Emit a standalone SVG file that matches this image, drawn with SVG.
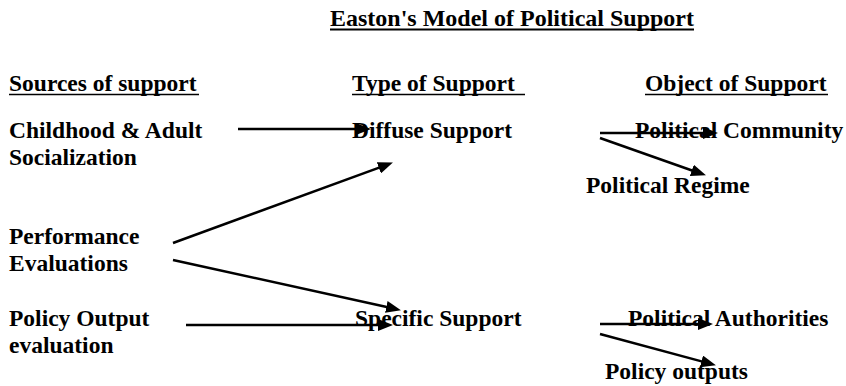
<svg xmlns="http://www.w3.org/2000/svg" width="846" height="386" viewBox="0 0 846 386">
<style>
text{font-family:"Liberation Serif","Times New Roman",serif;font-weight:bold;font-size:23.5px;fill:#000}
.ul{stroke:#000;stroke-width:1.6}
.conn line{stroke:#000;stroke-width:2.5;marker-end:url(#ah)}
</style>
<defs>
<marker id="ah" viewBox="0 0 15 12" markerWidth="15" markerHeight="12" markerUnits="userSpaceOnUse" refX="4" refY="6" orient="auto">
<path d="M0,0 L15,6 L0,12 z" fill="#000"/>
</marker>
</defs>
<rect width="846" height="386" fill="#fff"/>
<g id="title">
<text x="330" y="26" textLength="364" lengthAdjust="spacingAndGlyphs">Easton's Model of Political Support</text>
<line class="ul" x1="330" y1="29.5" x2="694" y2="29.5" style="stroke-width:2"/>
</g>
<g id="header-sources">
<text x="9" y="91">Sources of support</text>
<line class="ul" x1="9" y1="94.5" x2="199" y2="94.5"/>
</g>
<g id="header-type">
<text x="352" y="91">Type of Support</text>
<line class="ul" x1="352" y1="94.5" x2="525" y2="94.5"/>
</g>
<g id="header-object">
<text x="645" y="91">Object of Support</text>
<line class="ul" x1="645" y1="94.5" x2="828" y2="94.5"/>
</g>
<g id="node-socialization">
<text x="9" y="138">Childhood &amp; Adult</text>
<text x="9" y="165">Socialization</text>
</g>
<g id="node-performance">
<text x="9" y="244">Performance</text>
<text x="9" y="271">Evaluations</text>
</g>
<g id="node-policy-output">
<text x="9" y="326">Policy Output</text>
<text x="9" y="353">evaluation</text>
</g>
<g id="node-diffuse">
<text x="352" y="138">Diffuse Support</text>
</g>
<g id="node-specific">
<text x="355" y="326">Specific Support</text>
</g>
<g id="node-community">
<text x="635" y="138">Political Community</text>
</g>
<g id="node-regime">
<text x="586" y="193">Political Regime</text>
</g>
<g id="node-authorities">
<text x="628" y="326">Political Authorities</text>
</g>
<g id="node-outputs">
<text x="605" y="379">Policy outputs</text>
</g>
<g id="connectors" class="conn">
<line x1="238" y1="129" x2="360" y2="129"/>
<line x1="173" y1="243" x2="382.6" y2="166.4"/>
<line x1="173" y1="260" x2="390.2" y2="307.8"/>
<line x1="186" y1="325" x2="382" y2="325"/>
<line x1="600" y1="133" x2="707" y2="133"/>
<line x1="600" y1="138" x2="695.6" y2="171.7"/>
<line x1="600" y1="324" x2="702" y2="324"/>
<line x1="600" y1="334" x2="705.3" y2="362.4"/>
</g>
</svg>
